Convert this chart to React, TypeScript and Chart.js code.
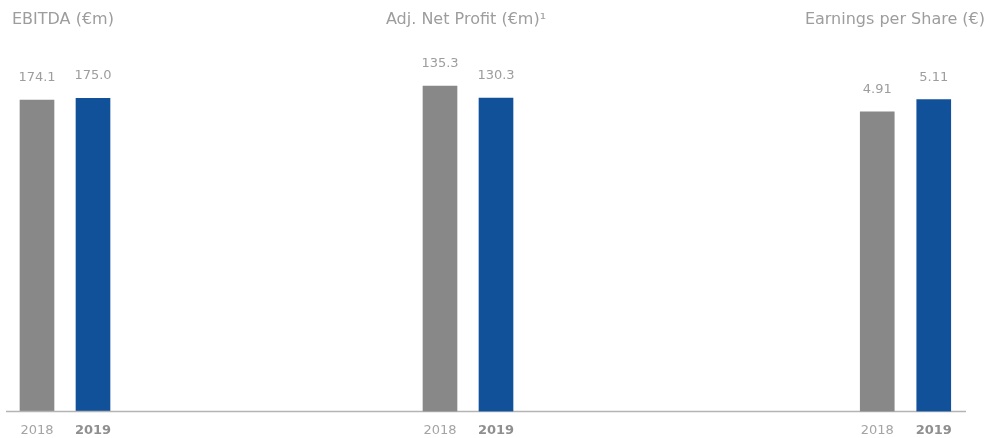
import React, { useEffect, useRef } from "react";
import { Chart, registerables } from "chart.js";

Chart.register(...registerables);

const years = ["2018", "2019"];
const ebitda = [174.1, 175.0];
const netProfit = [135.3, 130.3];
const eps = [4.91, 5.11];
const panelTitles = ["EBITDA (€m)", "Adj. Net Profit (€m)¹", "Earnings per Share (€)"];
const panelDecimals = [1, 1, 2];
const panelMax = [196.5, 146.1, 5.76];

const W = 989;
const H = 438;
const FONT = "'DejaVu Sans', Verdana, sans-serif";
const barColors = ["#888888", "#10519a"];

type Panel = {
  data: number[];
  title: string;
  decimals: number;
  max: number;
  padLeft: number;
  padRight: number;
  titleAlign: CanvasTextAlign;
  titleX: number;
  drawBase: boolean;
};

const panels: Panel[] = [
  { data: ebitda, title: panelTitles[0], decimals: panelDecimals[0], max: panelMax[0], padLeft: 9, padRight: 868, titleAlign: "left", titleX: 12, drawBase: true },
  { data: netProfit, title: panelTitles[1], decimals: panelDecimals[1], max: panelMax[1], padLeft: 412, padRight: 465, titleAlign: "center", titleX: 466, drawBase: false },
  { data: eps, title: panelTitles[2], decimals: panelDecimals[2], max: panelMax[2], padLeft: 849, padRight: 27, titleAlign: "right", titleX: 985, drawBase: false },
];

function makePlugin(p: Panel) {
  return {
    id: "panelDecor",
    afterDraw(chart: any) {
      const ctx = chart.ctx as CanvasRenderingContext2D;
      ctx.save();
      // title
      ctx.font = `16px ${FONT}`;
      ctx.fillStyle = "#9d9d9d";
      ctx.textAlign = p.titleAlign;
      ctx.textBaseline = "alphabetic";
      ctx.fillText(p.title, p.titleX, 24);
      // baseline
      if (p.drawBase) {
        const y = Math.round(chart.chartArea.bottom) + 0.5;
        ctx.strokeStyle = "#b4b4b4";
        ctx.lineWidth = 1.5;
        ctx.beginPath();
        ctx.moveTo(6, y);
        ctx.lineTo(966, y);
        ctx.stroke();
      }
      // value labels
      ctx.font = `13px ${FONT}`;
      ctx.fillStyle = "#9d9d9d";
      ctx.textAlign = "center";
      const meta = chart.getDatasetMeta(0);
      meta.data.forEach((bar: any, i: number) => {
        const v = p.data[i];
        ctx.fillText(v.toFixed(p.decimals), bar.x, bar.y - 19);
      });
      ctx.restore();
    },
  };
}

function PanelChart({ p }: { p: Panel }) {
  const ref = useRef<HTMLCanvasElement>(null);
  useEffect(() => {
    if (!ref.current) return;
    const chart = new Chart(ref.current, {
      type: "bar",
      data: {
        labels: years,
        datasets: [
          {
            data: p.data,
            backgroundColor: barColors,
            barThickness: 34,
            borderWidth: 0,
          },
        ],
      },
      options: {
        responsive: false,
        animation: false,
        layout: { padding: { left: p.padLeft, right: p.padRight, top: 60, bottom: -11 } },
        plugins: { legend: { display: false }, tooltip: { enabled: false }, title: { display: false } },
        scales: {
          x: {
            grid: { display: false, drawTicks: false },
            border: { display: false },
            ticks: {
              padding: 11,
              font: (c: any) => ({ family: FONT, size: 13, weight: c.index === 1 ? "bold" : "normal" }),
              color: (c: any) => (c.index === 1 ? "#8f8f8f" : "#a4a4a4"),
            },
          },
          y: {
            display: false,
            min: 0,
            max: p.max,
          },
        },
      },
      plugins: [makePlugin(p)],
    });
    return () => chart.destroy();
  }, []);
  return (
    <canvas
      ref={ref}
      width={W}
      height={H}
      style={{ position: "absolute", left: 0, top: 0, width: W, height: H }}
    />
  );
}

export default function App() {
  useEffect(() => {
    document.body.style.margin = "0";
  }, []);
  return (
    <div style={{ position: "relative", width: W, height: H, background: "#ffffff", overflow: "hidden" }}>
      {panels.map((p, i) => (
        <PanelChart key={i} p={p} />
      ))}
    </div>
  );
}
